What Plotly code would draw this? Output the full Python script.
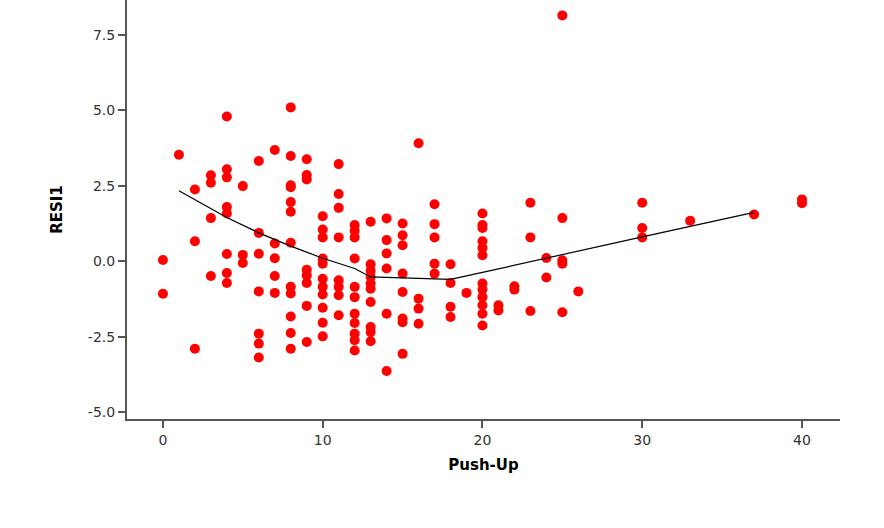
import plotly.graph_objects as go

# Residuals vs Push-Up
push_up = (
    [0, 0] + [1] + [2] * 3 + [3] * 4 + [4] * 8 + [5] * 3 + [6] * 7 + [7] * 5 +
    [8] * 12 + [9] * 8 + [10] * 11 + [11] * 8 + [12] * 11 + [13] * 10 + [14] * 6 +
    [15] * 8 + [16] * 4 + [17] * 5 + [18] * 4 + [19] + [20] * 12 + [21] * 2 +
    [22] * 2 + [23] * 3 + [24] * 2 + [25] * 5 + [26] + [30] * 3 + [33] + [37] + [40] * 2
)
resi1 = [
    0.04, -1.08,
    3.53,
    2.38, 0.66, -2.9,
    2.85, 2.6, 1.43, -0.49,
    4.8, 3.05, 2.78, 1.8, 1.58, 0.24, -0.39, -0.72,
    2.49, 0.21, -0.06,
    3.32, 0.94, 0.25, -1.0, -2.4, -2.73, -3.19,
    3.69, 0.59, 0.1, -0.49, -1.05,
    5.1, 3.49, 2.52, 2.45, 1.96, 1.64, 0.61, -0.85, -1.07, -1.83, -2.38, -2.9,
    3.38, 2.86, 2.71, -0.28, -0.47, -0.72, -1.48, -2.68,
    1.49, 1.05, 0.79, 0.09, -0.08, -0.58, -0.85, -1.1, -1.54, -2.04, -2.49,
    3.22, 2.23, 1.77, 0.79, -0.63, -0.85, -1.13, -1.79,
    1.2, 1.01, 0.79, 0.09, -0.85, -1.19, -1.74, -2.05, -2.4, -2.62, -2.96,
    1.31, -0.1, -0.32, -0.52, -0.74, -0.91, -1.35, -2.18, -2.35, -2.65,
    1.42, 0.7, 0.26, -0.24, -1.74, -3.64,
    1.25, 0.86, 0.53, -0.41, -1.02, -1.9, -2.02, -3.07,
    3.91, -1.24, -1.57, -2.07,
    1.89, 1.23, 0.79, -0.08, -0.41,
    -0.1, -0.72, -1.51, -1.85,
    -1.05,
    1.58, 1.2, 1.1, 0.66, 0.44, 0.2, -0.74, -0.94, -1.19, -1.46, -1.74, -2.13,
    -1.46, -1.63,
    -0.83, -0.94,
    1.94, 0.79, -1.65,
    0.11, -0.54,
    8.15, 1.43, 0.03, -0.08, -1.69,
    -1.0,
    1.94, 1.1, 0.79,
    1.34,
    1.55,
    2.05, 1.92,
]

# Smoother line
smooth_x = [1, 4, 6, 8, 10, 12, 13, 18, 20, 22, 24, 30, 37]
smooth_y = [2.34, 1.45, 0.94, 0.5, 0.1, -0.24, -0.52, -0.6, -0.37, -0.13, 0.11, 0.81, 1.62]

x_ticks = [0, 10, 20, 30, 40]
y_ticks = [-5.0, -2.5, 0.0, 2.5, 5.0, 7.5]

fig = go.Figure()
fig.add_trace(go.Scatter(
    x=push_up, y=resi1, mode="markers",
    marker=dict(color="#ff0000", size=10, line=dict(width=0)),
    showlegend=False,
))
fig.add_trace(go.Scatter(
    x=smooth_x, y=smooth_y, mode="lines",
    line=dict(color="black", width=1.2),
    showlegend=False,
))

axis_common = dict(
    showgrid=False, zeroline=False, showline=True, linecolor="#555555", linewidth=2,
    ticks="outside", ticklen=7, tickwidth=1.5, tickcolor="#555555",
    tickfont=dict(family="DejaVu Sans", size=14, color="#333333"),
)
fig.update_xaxes(
    range=[-2.25, 42.38], tickvals=x_ticks, ticktext=[str(v) for v in x_ticks],
    title=dict(text="<b>Push-Up</b>", font=dict(family="DejaVu Sans", size=15, color="black"), standoff=13),
    **axis_common,
)
fig.update_yaxes(
    range=[-5.23, 8.66], tickvals=y_ticks, ticktext=[f"{v:.1f}" for v in y_ticks],
    title=dict(text="<b>RESI1</b>", font=dict(family="DejaVu Sans", size=15, color="black"), standoff=22),
    **axis_common,
)
fig.update_layout(
    width=884, height=528,
    margin=dict(l=127, r=44, t=0, b=109),
    plot_bgcolor="white", paper_bgcolor="white",
)
fig.write_html("out.html")
